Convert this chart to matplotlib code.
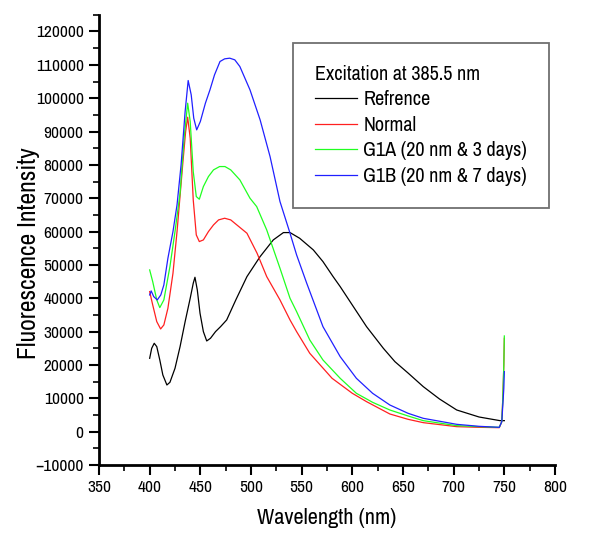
# -*- coding: utf-8 -*-

import numpy as np
from matplotlib import pyplot as plt
from matplotlib.ticker import MultipleLocator

plt.rcParams['font.family'] = ['Archivo Narrow', 'Liberation Sans', 'DejaVu Sans']

# Refrence (black)
ref_x = [400, 402, 404.5, 407, 410, 413, 417, 420, 425, 430, 435, 440, 443,
         444.7, 447, 449.7, 453, 456.3, 460, 465, 470, 476, 485, 496, 509,
         522, 532, 538.5, 548, 561.5, 571, 581, 588, 601, 614, 630.6, 642,
         655.3, 670, 686, 703, 725, 745.7, 750]
ref_y = [22000, 25000, 26500, 25500, 21500, 17000, 14000, 14800, 19000,
         25500, 33000, 40000, 44500, 46300, 42500, 35500, 30000, 27200, 28000,
         30000, 31500, 33500, 39500, 46500, 52500, 57500, 59700, 59700, 58000,
         54500, 51000, 46500, 43500, 37500, 31500, 25000, 21000, 17500, 13500,
         9800, 6500, 4400, 3300, 3300]

# Normal (red)
norm_x = [400, 403, 407, 410.8, 414, 418, 423, 427, 433, 435.5, 437.5, 440,
          443, 446, 449, 453, 458, 463, 468, 474, 480, 488, 496, 506, 515.5,
          528.6, 538.5, 545, 558, 580, 600, 614, 637, 655, 670, 703, 725, 745,
          747.5, 748.5, 749.5, 750]
norm_y = [42000, 38000, 33000, 30800, 32000, 37000, 47500, 60000, 81500, 90000,
          94300, 88000, 69500, 59000, 57000, 57500, 60000, 62000, 63500, 64000,
          63500, 61500, 59500, 53500, 46500, 39500, 33500, 30000, 23500, 16000,
          11500, 9000, 5300, 3700, 2700, 1500, 1300, 1200, 3000, 10000, 20000,
          28000]

# G1A (green)
g1a_x = [400, 403, 407, 410, 414, 420, 425, 430, 434, 437.5, 440, 443, 446,
         449, 453, 458, 463, 469, 474.3, 480, 489, 499, 505.6, 515.5, 528.6,
         538.5, 545, 558, 571, 588, 604, 620, 637, 655, 670, 703, 725, 745,
         747.5, 748.5, 749.5, 750]
g1a_y = [48500, 45000, 39500, 37200, 39500, 49500, 60000, 71500, 88000, 98500,
         93000, 78000, 70500, 69700, 73500, 76500, 78500, 79500, 79500, 78500,
         75500, 70000, 67500, 60500, 49000, 40000, 36000, 27500, 21500, 16000,
         11500, 8800, 6500, 4700, 3300, 1800, 1500, 1300, 3000, 10000, 20000,
         28700]

# G1B (blue)
g1b_x = [400, 401.5, 404, 407.5, 411, 414, 418, 423, 427, 431, 435, 438, 441,
         443.5, 446.4, 450, 455, 459.5, 464, 469.4, 474, 479, 484, 489, 499,
         509, 518.8, 528.6, 538, 545, 555, 571, 588, 604, 620, 637, 655, 670,
         703, 725, 745, 747.5, 748.5, 749.5, 750]
g1b_y = [41000, 42200, 40500, 39500, 41000, 44000, 52000, 60000, 68000,
         80000, 96000, 105300, 101000, 94000, 90500, 93000, 98500, 102500,
         107000, 111000, 111800, 112000, 111500, 109500, 102500, 93500, 82500,
         69000, 60000, 53000, 44500, 31500, 22500, 16000, 11500, 8000, 5500,
         4000, 2200, 1600, 1300, 3000, 8000, 13000, 18000]

fig = plt.figure(figsize=(6.0, 5.49), dpi=100)
ax = fig.add_axes([0.165, 0.153, 0.76, 0.82])

lw = 0.9
ax.plot(ref_x, ref_y, color='black', lw=lw, label='Refrence')
ax.plot(norm_x, norm_y, color='#ff2020', lw=lw, label='Normal')
ax.plot(g1a_x, g1a_y, color='#20ff20', lw=lw, label='G1A (20 nm & 3 days)')
ax.plot(g1b_x, g1b_y, color='#2020ff', lw=lw, label='G1B (20 nm & 7 days)')

ax.set_xlim(350, 800)
ax.set_ylim(-10000, 125000)
ax.set_xticks(np.arange(350, 801, 50))
ax.set_yticks(np.arange(-10000, 120001, 10000))
ax.xaxis.set_minor_locator(MultipleLocator(25))
ax.yaxis.set_minor_locator(MultipleLocator(5000))

for side in ['top', 'right']:
    ax.spines[side].set_visible(False)
for side in ['left', 'bottom']:
    ax.spines[side].set_linewidth(2)

ax.tick_params(which='major', direction='out', length=7, width=1.5,
               labelsize=12.5, pad=4)
ax.tick_params(which='minor', direction='out', length=4, width=1.2)

ax.set_xlabel('Wavelength (nm)', fontsize=16)
ax.set_ylabel('Fluorescence Intensity', fontsize=18.5)
ax.xaxis.set_label_coords(0.5, -0.095)
ax.yaxis.set_label_coords(-0.13, 0.47)

leg = ax.legend(loc='upper left', bbox_to_anchor=(0.488, 0.922),
                bbox_transform=fig.transFigure,
                title='Excitation at 385.5 nm', title_fontsize=14.5,
                fontsize=14.5, alignment='left', handlelength=2.1,
                handletextpad=0.3, labelspacing=0.32, borderpad=1.1,
                borderaxespad=0, fancybox=False, framealpha=1)
leg.get_frame().set_edgecolor('#707070')
leg.get_frame().set_linewidth(1.3)

plt.savefig('out.png', dpi=100)
